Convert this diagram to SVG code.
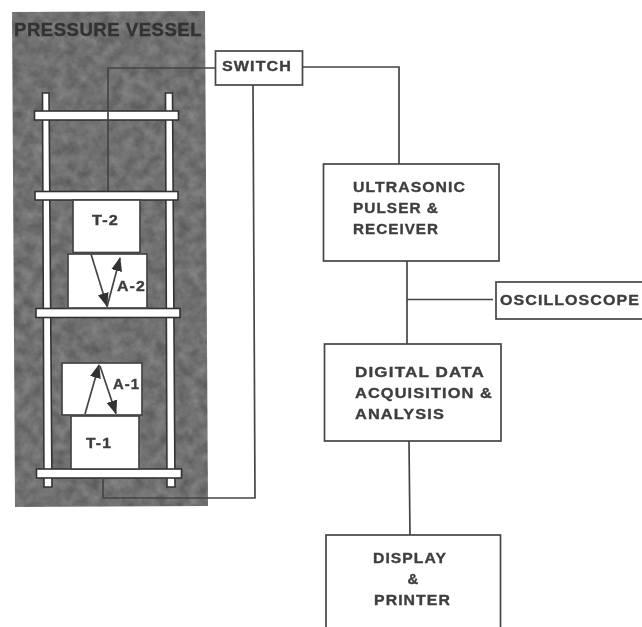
<svg xmlns="http://www.w3.org/2000/svg" width="642" height="627" viewBox="0 0 642 627">
<defs>
<filter id="grain" x="0" y="0" width="100%" height="100%" color-interpolation-filters="sRGB"><feTurbulence type="fractalNoise" baseFrequency="0.09" numOctaves="5" seed="7"/><feColorMatrix values="0.22 0 0 0 0.33 0.22 0 0 0 0.33 0.22 0 0 0 0.33 0 0 0 0 1"/><feComposite in2="SourceAlpha" operator="in"/></filter>
<filter id="soft" x="0" y="0" width="100%" height="100%"><feGaussianBlur stdDeviation="0.6"/></filter>
<marker id="arr" markerUnits="userSpaceOnUse" markerWidth="14" markerHeight="12" refX="13" refY="6" orient="auto"><path d="M0 0.5L14 6L0 11.5Z" fill="#333"/></marker>
</defs>
<style>
text{font-family:"Liberation Sans",Arial,sans-serif;font-weight:700;fill:#3e3e3e;stroke:#3e3e3e;stroke-width:.35;letter-spacing:1px}
.b{fill:#fff;stroke:#454545;stroke-width:1.7}
.r{fill:#fff;stroke:#333;stroke-width:1.6}
.c{fill:none;stroke:#454545;stroke-width:1.7}
.t{font-size:15px}
.m{font-size:14px}
</style>
<rect width="642" height="627" fill="#fff"/>
<g filter="url(#soft)">
<g id="vessel">
<polygon points="12,12 205,11 208,506 15,507" fill="#777" filter="url(#grain)"/>
<text x="14" y="36" font-size="19" textLength="188" lengthAdjust="spacingAndGlyphs" style="fill:#333;stroke:#333;letter-spacing:.5px">PRESSURE VESSEL</text>
</g>
<g id="frame">
<polygon class="r" points="42.500,93 49,93 52,487 44,487"/>
<polygon class="r" points="165.500,93 172.500,93 175,487 167,487"/>
<rect class="r" x="34.500" y="111" width="144" height="9"/>
<rect class="r" x="35" y="191.500" width="143" height="8.500"/>
<rect class="r" x="36" y="308.500" width="144" height="9"/>
<rect class="r" x="36.500" y="469" width="145" height="9"/>
</g>
<g id="connectors">
<path class="c" d="M108 191V68H216"/>
<path class="c" d="M302 67H399V164"/>
<path class="c" d="M253 85L255 498H103V478"/>
<path class="c" d="M407 261V344"/>
<path class="c" d="M407 299.500H493"/>
<path class="c" d="M409 441L410 535"/>
</g>
<g id="t2"><rect class="b" x="73" y="200" width="67" height="52.500"/><text class="m" x="92" y="225" textLength="27" lengthAdjust="spacingAndGlyphs">T-2</text></g>
<g id="a2"><rect class="b" x="68" y="254" width="79" height="54"/>
<path class="c" d="M91 254L107 306" marker-end="url(#arr)"/><path class="c" d="M107 307L120 258" marker-end="url(#arr)"/>
<text class="m" x="117" y="290.500" textLength="29" lengthAdjust="spacingAndGlyphs">A-2</text></g>
<g id="a1"><rect class="b" x="62" y="363" width="80" height="52"/>
<path class="c" d="M85 414L99 365" marker-end="url(#arr)"/><path class="c" d="M100 366L116 413.500" marker-end="url(#arr)"/>
<text class="m" x="113" y="389" textLength="27" lengthAdjust="spacingAndGlyphs">A-1</text></g>
<g id="t1"><rect class="b" x="71" y="416" width="68" height="53"/><text class="m" x="86" y="448" textLength="26" lengthAdjust="spacingAndGlyphs">T-1</text></g>
<g id="switch"><rect class="b" x="215.500" y="51" width="87" height="34"/><text class="t" x="222" y="71" textLength="70" lengthAdjust="spacingAndGlyphs">SWITCH</text></g>
<g id="pulser"><rect class="b" x="323.500" y="164" width="175.500" height="97"/><text class="t" x="353" y="191.500" textLength="113" lengthAdjust="spacingAndGlyphs">ULTRASONIC</text><text class="t" x="353" y="213" textLength="86" lengthAdjust="spacingAndGlyphs">PULSER &amp;</text><text class="t" x="353" y="233.500" textLength="86" lengthAdjust="spacingAndGlyphs">RECEIVER</text></g>
<g id="scope"><rect class="b" x="496" y="282" width="150" height="37"/><text class="t" x="500" y="305" textLength="140" lengthAdjust="spacingAndGlyphs">OSCILLOSCOPE</text></g>
<g id="daq"><rect class="b" x="324.500" y="344" width="176.500" height="97"/><text class="t" x="355" y="377" textLength="130" lengthAdjust="spacingAndGlyphs">DIGITAL DATA</text><text class="t" x="355" y="398" textLength="138" lengthAdjust="spacingAndGlyphs">ACQUISITION &amp;</text><text class="t" x="355" y="419" textLength="90" lengthAdjust="spacingAndGlyphs">ANALYSIS</text></g>
<g id="display"><rect class="b" x="326" y="535" width="174.500" height="100"/><text class="t" x="373" y="563" textLength="74" lengthAdjust="spacingAndGlyphs">DISPLAY</text><text class="t" x="407.500" y="584">&amp;</text><text class="t" x="374" y="605" textLength="77" lengthAdjust="spacingAndGlyphs">PRINTER</text></g>
</g>
</svg>
